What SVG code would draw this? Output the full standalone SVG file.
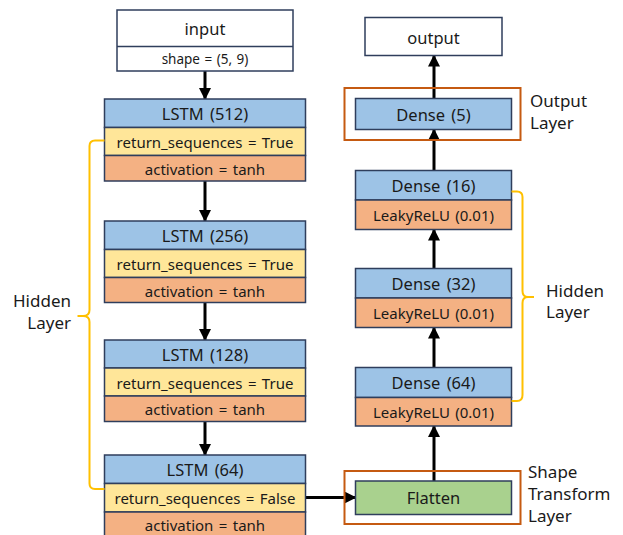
<svg xmlns="http://www.w3.org/2000/svg" width="623" height="535" viewBox="0 0 623 535">
<style>
text{font-family:"Noto Sans","Open Sans","Liberation Sans",sans-serif;fill:#1a1a1a;text-anchor:middle;dominant-baseline:central}
.box{stroke:#2F3E5C;stroke-width:1.5}
.w{fill:#fff}.b{fill:#9DC3E6}.y{fill:#FFE699}.o{fill:#F4B183}.g{fill:#A9D18E}
.t1{font-size:16.5px;word-spacing:2px}.t2{font-size:15px;word-spacing:1.5px}.t3{font-size:13.5px;word-spacing:1px}.t4{font-size:16.5px}
.lbl{font-size:17px;text-anchor:start}
.frame{fill:none;stroke:#C55A11;stroke-width:2}
.brace{fill:none;stroke:#FFC000;stroke-width:2}
.arr{stroke:#000;stroke-width:3;fill:none;marker-end:url(#ah)}
</style>
<defs>
<marker id="ah" markerUnits="userSpaceOnUse" markerWidth="12" markerHeight="12" viewBox="0 0 12 12" refX="11" refY="6" orient="auto">
<path d="M0,0 L12,6 L0,12 Z" fill="#000"/>
</marker>
</defs>

<g id="connectors">
<line class="arr" x1="205" y1="71" x2="205" y2="99"/>
<line class="arr" x1="205" y1="181" x2="205" y2="221"/>
<line class="arr" x1="205" y1="302.5" x2="205" y2="340"/>
<line class="arr" x1="205" y1="421.5" x2="205" y2="455"/>
<line class="arr" x1="305.5" y1="497.5" x2="355.5" y2="497.5"/>
<line class="arr" x1="434" y1="481" x2="434" y2="426"/>
<line class="arr" x1="434" y1="367.5" x2="434" y2="327.5"/>
<line class="arr" x1="434" y1="268.5" x2="434" y2="229.5"/>
<line class="arr" x1="434" y1="170.5" x2="434" y2="129.5"/>
<line class="arr" x1="434" y1="98.5" x2="434" y2="55.5"/>
</g>

<g id="input">
<rect class="box w" x="117" y="10" width="176" height="61"/>
<line class="box" x1="117" y1="46.5" x2="293" y2="46.5"/>
<text class="t4" x="205" y="28.5">input</text>
<text class="t3" x="205" y="59">shape = (5, 9)</text>
</g>

<g id="lstm512">
<rect class="box b" x="104.5" y="99" width="201" height="28.5"/>
<rect class="box y" x="104.5" y="127.5" width="201" height="28"/>
<rect class="box o" x="104.5" y="155.5" width="201" height="25.5"/>
<text class="t1" x="205" y="113.5">LSTM (512)</text>
<text class="t2" x="205" y="142">return_sequences = True</text>
<text class="t2" x="205" y="168.5">activation = tanh</text>
</g>

<g id="lstm256">
<rect class="box b" x="104.5" y="221" width="201" height="28.5"/>
<rect class="box y" x="104.5" y="249.5" width="201" height="28"/>
<rect class="box o" x="104.5" y="277.5" width="201" height="25"/>
<text class="t1" x="205" y="235.5">LSTM (256)</text>
<text class="t2" x="205" y="264">return_sequences = True</text>
<text class="t2" x="205" y="290.5">activation = tanh</text>
</g>

<g id="lstm128">
<rect class="box b" x="104.5" y="340" width="201" height="28"/>
<rect class="box y" x="104.5" y="368" width="201" height="28"/>
<rect class="box o" x="104.5" y="396" width="201" height="25.5"/>
<text class="t1" x="205" y="354.5">LSTM (128)</text>
<text class="t2" x="205" y="382.5">return_sequences = True</text>
<text class="t2" x="205" y="409">activation = tanh</text>
</g>

<g id="lstm64">
<rect class="box b" x="104.5" y="455" width="201" height="28.5"/>
<rect class="box y" x="104.5" y="483.5" width="201" height="28.5"/>
<rect class="box o" x="104.5" y="512" width="201" height="26"/>
<text class="t1" x="205" y="469.5">LSTM (64)</text>
<text class="t2" x="205" y="498">return_sequences = False</text>
<text class="t2" x="205" y="524.5">activation = tanh</text>
</g>

<g id="output">
<rect class="box w" x="365" y="17.5" width="137" height="38"/>
<text class="t4" x="433.5" y="37">output</text>
</g>

<g id="dense5">
<rect class="frame" x="344.5" y="88" width="176" height="52"/>
<rect class="box b" x="355.5" y="98.5" width="156" height="31"/>
<text class="t1" x="433.5" y="114.5">Dense (5)</text>
<text class="lbl" x="530" y="99.5"><tspan x="530">Output</tspan><tspan x="530" dy="22">Layer</tspan></text>
</g>

<g id="dense16">
<rect class="box b" x="355.5" y="170.5" width="156" height="29.5"/>
<rect class="box o" x="355.5" y="200" width="156" height="29.5"/>
<text class="t1" x="433.5" y="185.5">Dense (16)</text>
<text class="t2" x="433.5" y="215">LeakyReLU (0.01)</text>
</g>

<g id="dense32">
<rect class="box b" x="355.5" y="268.5" width="156" height="29.5"/>
<rect class="box o" x="355.5" y="298" width="156" height="29.5"/>
<text class="t1" x="433.5" y="283.5">Dense (32)</text>
<text class="t2" x="433.5" y="313">LeakyReLU (0.01)</text>
</g>

<g id="dense64">
<rect class="box b" x="355.5" y="367.5" width="156" height="30"/>
<rect class="box o" x="355.5" y="397.5" width="156" height="28.5"/>
<text class="t1" x="433.5" y="382.5">Dense (64)</text>
<text class="t2" x="433.5" y="412">LeakyReLU (0.01)</text>
</g>

<g id="flatten">
<rect class="frame" x="344.5" y="471" width="176" height="53"/>
<rect class="box g" x="355.5" y="481" width="156" height="33.5"/>
<text class="t1" x="433.5" y="497.5">Flatten</text>
<text class="lbl" x="528" y="471"><tspan x="528">Shape</tspan><tspan x="528" dy="22">Transform</tspan><tspan x="528" dy="22">Layer</tspan></text>
</g>

<g id="hidden-left">
<path class="brace" d="M104.5,140.5 H95 Q89.5,140.5 89.5,146 V310 Q89.5,316 83,316 H77.5 M83,316 Q89.5,316 89.5,322 V483.5 Q89.5,489 95,489 H104.5"/>
<text class="lbl" x="71" y="299.5" style="text-anchor:end"><tspan x="71">Hidden</tspan><tspan x="71" dy="22">Layer</tspan></text>
</g>

<g id="hidden-right">
<path class="brace" d="M511.5,191.5 H517 Q522.5,191.5 522.5,197 V291 Q522.5,297 528,297 H534 M528,297 Q522.5,297 522.5,303 V395 Q522.5,401 517,401 H511.5"/>
<text class="lbl" x="546" y="289.5"><tspan x="546">Hidden</tspan><tspan x="546" dy="21.5">Layer</tspan></text>
</g>
</svg>
